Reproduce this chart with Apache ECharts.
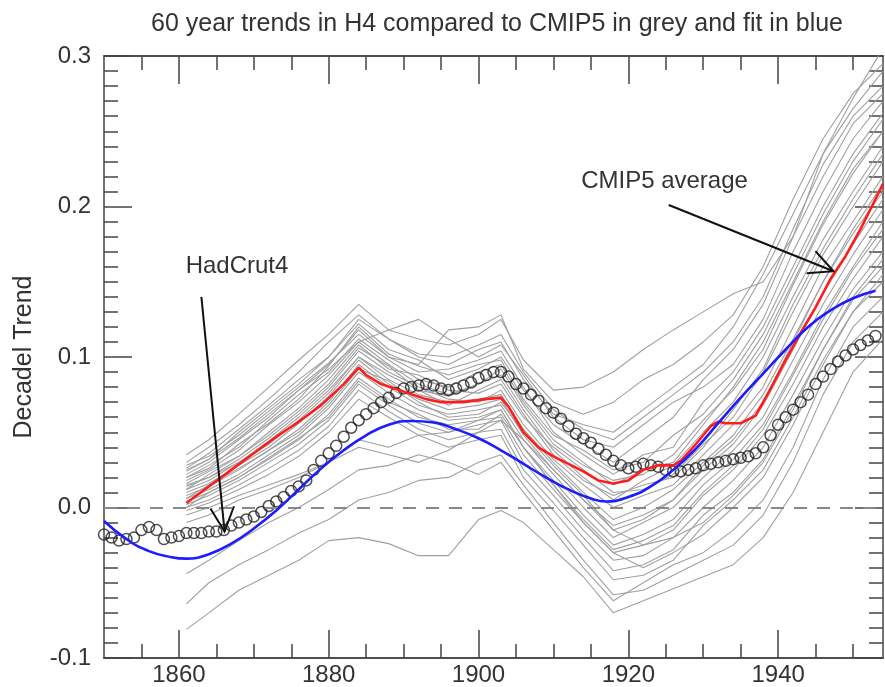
<!DOCTYPE html>
<html>
<head>
<meta charset="utf-8">
<script src="https://cdn.jsdelivr.net/npm/echarts@6/dist/echarts.min.js"></script>
<style>
  html, body { margin: 0; padding: 0; background: #fff; }
  #main-chart { width: 885px; height: 687px; }
</style>
</head>
<body>
<div id="main-chart"></div>
<script>
const TITLE = '60 year trends in H4 compared to CMIP5 in grey and fit in blue'
const Y_NAME = 'Decadel Trend'
const HAD_LABEL = 'HadCrut4'
const CMIP_LABEL = 'CMIP5 average'

// tick positions on the year axis
const yearMajor = [1860, 1880, 1900, 1920, 1940]
const yearMinor = [1855, 1865, 1870, 1875, 1885, 1890, 1895, 1905, 1910, 1915, 1925, 1930, 1935, 1945, 1950]

// HadCrut4 60-year trend, one value per year from 1850
const hadStart = 1850
const hadcrut = [
  -0.018, -0.020, -0.022, -0.021, -0.020, -0.015, -0.013, -0.015, -0.021, -0.020,
  -0.019, -0.017, -0.017, -0.017, -0.016, -0.016, -0.015, -0.012, -0.010, -0.008,
  -0.006, -0.003, 0.001, 0.004, 0.007, 0.011, 0.014, 0.018, 0.025, 0.031,
  0.036, 0.041, 0.047, 0.053, 0.058, 0.062, 0.066, 0.070, 0.073, 0.076,
  0.079, 0.080, 0.081, 0.082, 0.081, 0.079, 0.078, 0.079, 0.081, 0.083,
  0.086, 0.088, 0.090, 0.090, 0.087, 0.082, 0.079, 0.075, 0.071, 0.066,
  0.063, 0.059, 0.054, 0.049, 0.046, 0.043, 0.039, 0.035, 0.031, 0.028,
  0.026, 0.027, 0.029, 0.028, 0.027, 0.025, 0.024, 0.024, 0.025, 0.026,
  0.028, 0.029, 0.030, 0.031, 0.032, 0.033, 0.034, 0.036, 0.040, 0.048,
  0.055, 0.060, 0.065, 0.070, 0.075, 0.082, 0.087, 0.092, 0.097, 0.101,
  0.105, 0.108, 0.111, 0.114
]

// fitted curve (blue)
const fitYears = [1850, 1853, 1856, 1859, 1861, 1864, 1867, 1870, 1873, 1876, 1879, 1882, 1885, 1888, 1891, 1894, 1897, 1900, 1903, 1906, 1909, 1912, 1915, 1917, 1920, 1923, 1926, 1929, 1932, 1935, 1938, 1941, 1944, 1947, 1950, 1953]
const fitValues = [-0.009, -0.021, -0.029, -0.033, -0.034, -0.031, -0.024, -0.014, -0.002, 0.012, 0.026, 0.038, 0.048, 0.055, 0.0575, 0.0565, 0.052, 0.046, 0.038, 0.029, 0.020, 0.012, 0.006, 0.004, 0.007, 0.014, 0.025, 0.039, 0.056, 0.073, 0.089, 0.105, 0.120, 0.131, 0.139, 0.144]

// CMIP5 multi-model average (red)
const cmipYears = [1861, 1864, 1867, 1870, 1873, 1876, 1879, 1882, 1884, 1885, 1887, 1890, 1893, 1895, 1898, 1901, 1903, 1904, 1906, 1908, 1910, 1912, 1914, 1916, 1918, 1920, 1922, 1924, 1926, 1927, 1929, 1931, 1932, 1933, 1935, 1937, 1939, 1941, 1943, 1945, 1947, 1949, 1951, 1953, 1954]
const cmipValues = [0.003, 0.014, 0.025, 0.036, 0.047, 0.057, 0.068, 0.082, 0.093, 0.088, 0.082, 0.077, 0.072, 0.070, 0.070, 0.072, 0.073, 0.067, 0.050, 0.040, 0.034, 0.029, 0.024, 0.018, 0.016, 0.018, 0.025, 0.028, 0.028, 0.031, 0.042, 0.054, 0.057, 0.056, 0.056, 0.061, 0.079, 0.098, 0.116, 0.133, 0.152, 0.167, 0.185, 0.205, 0.215]

// individual CMIP5 runs (grey), sampled at these years
const runYears = [1861, 1864, 1868, 1872, 1876, 1880, 1884, 1888, 1892, 1896, 1900, 1903, 1906, 1910, 1914, 1918, 1922, 1926, 1930, 1934, 1938, 1942, 1946, 1950, 1954]
const run01 = [0.035, 0.045, 0.062, 0.080, 0.098, 0.115, 0.135, 0.118, 0.112, 0.108, 0.115, 0.125, 0.098, 0.078, 0.080, 0.090, 0.105, 0.118, 0.130, 0.142, 0.150, 0.180, 0.235, 0.272, 0.305]
const run02 = [0.030, 0.040, 0.055, 0.072, 0.090, 0.110, 0.128, 0.112, 0.100, 0.095, 0.105, 0.110, 0.085, 0.062, 0.055, 0.050, 0.065, 0.080, 0.095, 0.120, 0.155, 0.195, 0.235, 0.265, 0.290]
const run03 = [0.026, 0.036, 0.052, 0.068, 0.085, 0.100, 0.122, 0.105, 0.098, 0.085, 0.092, 0.100, 0.078, 0.055, 0.042, 0.030, 0.045, 0.060, 0.085, 0.105, 0.135, 0.180, 0.220, 0.255, 0.275]
const run04 = [0.022, 0.030, 0.045, 0.060, 0.078, 0.095, 0.118, 0.100, 0.090, 0.092, 0.098, 0.104, 0.080, 0.050, 0.035, 0.022, 0.035, 0.040, 0.070, 0.090, 0.120, 0.160, 0.200, 0.235, 0.262]
const run05 = [0.020, 0.028, 0.040, 0.058, 0.075, 0.090, 0.112, 0.098, 0.085, 0.080, 0.090, 0.095, 0.070, 0.045, 0.030, 0.015, 0.025, 0.030, 0.055, 0.080, 0.110, 0.150, 0.190, 0.225, 0.250]
const run06 = [0.018, 0.025, 0.038, 0.055, 0.070, 0.088, 0.110, 0.095, 0.082, 0.075, 0.082, 0.088, 0.065, 0.038, 0.020, 0.005, 0.018, 0.028, 0.050, 0.070, 0.100, 0.140, 0.178, 0.210, 0.240]
const run07 = [0.016, 0.024, 0.034, 0.050, 0.066, 0.085, 0.108, 0.092, 0.088, 0.078, 0.076, 0.082, 0.060, 0.040, 0.025, 0.010, 0.012, 0.022, 0.042, 0.060, 0.090, 0.130, 0.168, 0.200, 0.230]
const run08 = [0.014, 0.020, 0.032, 0.046, 0.062, 0.080, 0.104, 0.090, 0.080, 0.072, 0.070, 0.078, 0.055, 0.032, 0.015, 0.000, 0.008, 0.015, 0.035, 0.055, 0.080, 0.120, 0.160, 0.190, 0.220]
const run09 = [0.012, 0.018, 0.030, 0.044, 0.060, 0.078, 0.100, 0.085, 0.075, 0.070, 0.072, 0.075, 0.052, 0.030, 0.010, -0.008, 0.000, 0.012, 0.030, 0.048, 0.075, 0.112, 0.150, 0.182, 0.210]
const run10 = [0.010, 0.016, 0.028, 0.040, 0.056, 0.074, 0.098, 0.082, 0.072, 0.065, 0.068, 0.072, 0.048, 0.025, 0.005, -0.012, -0.005, 0.005, 0.025, 0.042, 0.068, 0.105, 0.142, 0.175, 0.205]
const run11 = [0.008, 0.014, 0.025, 0.038, 0.052, 0.070, 0.095, 0.080, 0.068, 0.062, 0.065, 0.068, 0.045, 0.022, 0.000, -0.020, -0.010, 0.000, 0.020, 0.038, 0.060, 0.098, 0.135, 0.168, 0.198]
const run12 = [0.006, 0.012, 0.022, 0.035, 0.048, 0.066, 0.090, 0.076, 0.065, 0.058, 0.060, 0.065, 0.040, 0.018, -0.005, -0.025, -0.018, -0.008, 0.015, 0.032, 0.055, 0.090, 0.128, 0.160, 0.190]
const run13 = [0.004, 0.010, 0.020, 0.032, 0.045, 0.062, 0.086, 0.072, 0.060, 0.055, 0.058, 0.060, 0.035, 0.012, -0.010, -0.030, -0.025, -0.015, 0.008, 0.025, 0.048, 0.082, 0.120, 0.152, 0.180]
const run14 = [0.002, 0.008, 0.018, 0.030, 0.042, 0.058, 0.082, 0.068, 0.056, 0.050, 0.055, 0.058, 0.030, 0.008, -0.015, -0.035, -0.032, -0.020, 0.000, 0.018, 0.040, 0.075, 0.112, 0.145, 0.170]
const run15 = [0.000, 0.005, 0.015, 0.026, 0.038, 0.054, 0.078, 0.064, 0.052, 0.045, 0.050, 0.052, 0.025, 0.003, -0.020, -0.042, -0.038, -0.028, -0.005, 0.010, 0.032, 0.068, 0.105, 0.138, 0.160]
const run16 = [-0.002, 0.003, 0.012, 0.022, 0.034, 0.050, 0.072, 0.060, 0.048, 0.040, 0.045, 0.048, 0.020, -0.002, -0.025, -0.048, -0.045, -0.035, -0.012, 0.005, 0.025, 0.060, 0.098, 0.130, 0.150]
const run17 = [0.028, 0.034, 0.048, 0.064, 0.080, 0.096, 0.115, 0.100, 0.095, 0.118, 0.120, 0.128, 0.092, 0.070, 0.062, 0.070, 0.085, 0.095, 0.110, 0.128, 0.160, 0.205, 0.245, 0.275, 0.295]
const run18 = [0.024, 0.032, 0.046, 0.062, 0.078, 0.092, 0.110, 0.118, 0.125, 0.112, 0.100, 0.108, 0.088, 0.060, 0.045, 0.040, 0.055, 0.070, 0.080, 0.095, 0.125, 0.170, 0.210, 0.245, 0.270]
const run19 = [0.020, 0.026, 0.042, 0.056, 0.072, 0.094, 0.120, 0.102, 0.094, 0.088, 0.095, 0.098, 0.072, 0.048, 0.038, 0.025, 0.030, 0.048, 0.062, 0.085, 0.115, 0.155, 0.195, 0.230, 0.258]
const run20 = [0.012, 0.022, 0.034, 0.048, 0.064, 0.082, 0.106, 0.094, 0.078, 0.068, 0.078, 0.085, 0.062, 0.035, 0.018, 0.008, 0.015, 0.020, 0.040, 0.065, 0.092, 0.135, 0.172, 0.205, 0.235]
const run21 = [0.006, 0.015, 0.026, 0.038, 0.050, 0.068, 0.092, 0.084, 0.070, 0.060, 0.062, 0.070, 0.050, 0.028, 0.008, -0.015, -0.008, 0.005, 0.028, 0.045, 0.070, 0.110, 0.150, 0.185, 0.215]
const run22 = [0.015, 0.020, 0.030, 0.042, 0.058, 0.076, 0.100, 0.088, 0.078, 0.074, 0.082, 0.092, 0.068, 0.042, 0.028, 0.018, 0.022, 0.035, 0.058, 0.078, 0.105, 0.148, 0.188, 0.222, 0.250]
const run23 = [0.000, 0.010, 0.020, 0.033, 0.046, 0.060, 0.084, 0.070, 0.062, 0.052, 0.052, 0.062, 0.040, 0.015, -0.008, -0.028, -0.022, -0.012, 0.010, 0.028, 0.052, 0.088, 0.125, 0.158, 0.185]
const run24 = [0.025, 0.032, 0.050, 0.066, 0.082, 0.100, 0.125, 0.112, 0.102, 0.100, 0.108, 0.115, 0.090, 0.065, 0.052, 0.045, 0.060, 0.075, 0.090, 0.110, 0.140, 0.185, 0.228, 0.260, 0.280]
const run25 = [-0.081, -0.070, -0.055, -0.045, -0.035, -0.022, -0.020, -0.024, -0.032, -0.032, -0.008, -0.002, -0.010, -0.028, -0.046, -0.070, -0.062, -0.054, -0.046, -0.038, -0.020, 0.010, 0.050, 0.090, 0.112]
const run26 = [-0.064, -0.050, -0.038, -0.028, -0.017, -0.008, 0.005, 0.010, 0.018, 0.020, 0.030, 0.035, 0.015, -0.010, -0.035, -0.058, -0.055, -0.045, -0.035, -0.025, -0.005, 0.030, 0.075, 0.110, 0.130]
const run27 = [-0.044, -0.035, -0.022, -0.010, 0.000, 0.012, 0.025, 0.028, 0.035, 0.030, 0.022, 0.030, 0.010, -0.015, -0.040, -0.062, -0.050, -0.038, -0.030, -0.015, 0.005, 0.040, 0.085, 0.120, 0.140]
const run28 = [-0.010, -0.005, 0.005, 0.012, 0.020, 0.030, 0.045, 0.040, 0.048, 0.050, 0.058, 0.065, 0.040, 0.015, -0.010, -0.030, -0.040, -0.030, -0.018, 0.000, 0.020, 0.055, 0.095, 0.130, 0.155]
const run29 = [-0.005, 0.000, 0.008, 0.015, 0.022, 0.030, 0.040, 0.035, 0.030, 0.038, 0.050, 0.058, 0.045, 0.025, 0.005, -0.015, -0.025, -0.020, -0.010, 0.008, 0.030, 0.065, 0.105, 0.140, 0.165]
const modelRuns = [run01, run02, run03, run04, run05, run06, run07, run08, run09, run10, run11, run12, run13, run14, run15,
  run16, run17, run18, run19, run20, run21, run22, run23, run24, run25, run26, run27, run28, run29]

// annotation anchors, in data coordinates [year, trend]
const hadLabelAt = [1860.9, 0.160]
const hadArrow = [[1863.0, 0.140], [1866.1, -0.016]]
const cmipLabelAt = [1913.7, 0.217]
const cmipArrow = [[1925.4, 0.201], [1947.4, 0.157]]

const FONT = '"Liberation Sans", Arial, Helvetica, sans-serif'
const AXIS_COLOR = '#444'
const TEXT_COLOR = '#333'

const $mainChart = document.querySelector('#main-chart')
const chart = echarts.init($mainChart, null, { renderer: 'canvas' })

const axisLine = { show: true, onZero: false, lineStyle: { color: AXIS_COLOR, width: 1.5 } }
const tickStyle = { color: AXIS_COLOR, width: 1.5 }

const xAxisFor = (position, values, length, withLabels) => ({
  type: 'value',
  position: position,
  min: 1850,
  max: 1954,
  axisLine: axisLine,
  splitLine: { show: false },
  axisTick: { show: true, inside: true, length: length, customValues: values, lineStyle: tickStyle },
  axisLabel: withLabels ? {
    show: true, customValues: values, margin: 5, formatter: v => String(v),
    fontFamily: FONT, fontSize: 24, color: TEXT_COLOR
  } : { show: false }
})

const yAxisFor = (position, withLabels) => ({
  type: 'value',
  position: position,
  min: -0.1,
  max: 0.3,
  interval: 0.1,
  axisLine: axisLine,
  splitLine: { show: false },
  axisTick: { show: true, inside: true, length: 28, lineStyle: tickStyle },
  minorTick: { show: true, splitNumber: 10, length: 14, lineStyle: tickStyle },
  axisLabel: withLabels ? {
    show: true, margin: 13, formatter: v => v.toFixed(1),
    fontFamily: FONT, fontSize: 24, color: TEXT_COLOR
  } : { show: false },
  name: withLabels ? Y_NAME : '',
  nameLocation: 'middle',
  nameRotate: 90,
  nameGap: 67,
  nameTextStyle: { fontFamily: FONT, fontSize: 25, color: TEXT_COLOR }
})

const runSeries = modelRuns.map((run, k) => ({
  name: 'run' + (k + 1),
  type: 'line',
  data: runYears.map((y, i) => [y, run[i]]),
  showSymbol: false,
  lineStyle: { color: '#a0a0a0', width: 1.1 },
  z: 2
}))

const option = {
  animation: false,
  backgroundColor: '#fff',
  grid: { left: 104, right: 2, top: 56, bottom: 28 },
  xAxis: [
    xAxisFor('bottom', yearMajor, 28, true),
    xAxisFor('bottom', yearMinor, 14, false),
    xAxisFor('top', yearMajor, 28, false),
    xAxisFor('top', yearMinor, 14, false)
  ],
  yAxis: [
    yAxisFor('left', true),
    yAxisFor('right', false)
  ],
  series: runSeries.concat([
    {
      name: 'HadCrut4',
      type: 'scatter',
      data: hadcrut.map((v, i) => [hadStart + i, v]),
      symbol: 'circle',
      symbolSize: 11,
      itemStyle: { color: 'rgba(0,0,0,0)', borderColor: '#222', borderWidth: 1.5 },
      z: 3
    },
    {
      name: 'CMIP5 average',
      type: 'line',
      data: cmipYears.map((y, i) => [y, cmipValues[i]]),
      showSymbol: false,
      lineStyle: { color: '#ff1c1c', width: 2.6 },
      markLine: {
        silent: true,
        symbol: 'none',
        label: { show: false },
        lineStyle: { color: '#888', width: 2, type: [13, 10] },
        data: [{ yAxis: 0 }]
      },
      z: 4
    },
    {
      name: 'fit',
      type: 'line',
      smooth: true,
      data: fitYears.map((y, i) => [y, fitValues[i]]),
      showSymbol: false,
      lineStyle: { color: '#1c1cff', width: 2.6 },
      z: 5
    }
  ])
}
chart.setOption(option)

// title and annotations are placed from data coordinates
const px = p => chart.convertToPixel({ xAxisIndex: 0, yAxisIndex: 0 }, p)
const HEAD_LEN = 27
const HEAD_ANGLE = 26 * Math.PI / 180
const arrow = (from, to) => {
  const a = px(from)
  const b = px(to)
  const back = Math.atan2(a[1] - b[1], a[0] - b[0])
  const arms = [back - HEAD_ANGLE, back + HEAD_ANGLE]
    .map(t => [b[0] + HEAD_LEN * Math.cos(t), b[1] + HEAD_LEN * Math.sin(t)])
  return [
    { type: 'line', shape: { x1: a[0], y1: a[1], x2: b[0], y2: b[1] }, style: { stroke: '#111', lineWidth: 2 }, z: 100 },
    { type: 'polyline', shape: { points: [arms[0], b, arms[1]] }, style: { stroke: '#111', lineWidth: 2, fill: null }, z: 100 }
  ]
}
const label = (text, at) => {
  const p = px(at)
  return {
    type: 'text', x: p[0], y: p[1], z: 100,
    style: {
      text: text, fill: TEXT_COLOR, font: '24px ' + FONT,
      align: 'left', verticalAlign: 'middle', textAlign: 'left', textVerticalAlign: 'middle'
    }
  }
}

chart.setOption({
  graphic: [
    {
      type: 'text', x: 497, y: 24, z: 100,
      style: {
        text: TITLE, fill: TEXT_COLOR, font: '25px ' + FONT,
        align: 'center', verticalAlign: 'middle', textAlign: 'center', textVerticalAlign: 'middle'
      }
    },
    label(HAD_LABEL, hadLabelAt),
    label(CMIP_LABEL, cmipLabelAt)
  ].concat(arrow(hadArrow[0], hadArrow[1]), arrow(cmipArrow[0], cmipArrow[1]))
})
</script>
</body>
</html>
